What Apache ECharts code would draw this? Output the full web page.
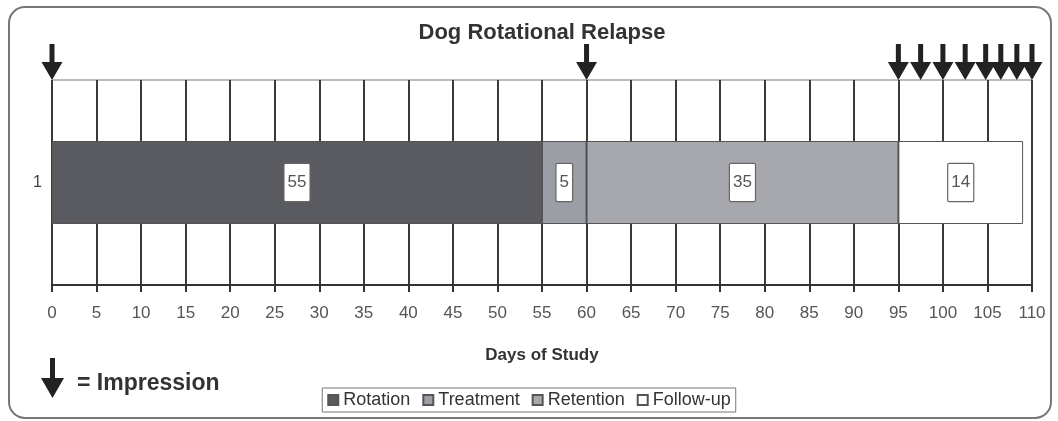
<!DOCTYPE html>
<html>
<head>
<meta charset="utf-8">
<script src="https://cdn.jsdelivr.net/npm/echarts@6/dist/echarts.min.js"></script>
<style>
  html, body { margin: 0; padding: 0; background: #fff; }
  #chart { width: 1058px; height: 421px; }
</style>
</head>
<body>
<div id="chart"></div>
<script>
// data
const categories = ["1"];
const phases = ["Rotation", "Treatment", "Retention", "Follow-up"];
const phaseDays = [55, 5, 35, 14];
const phaseColors = ["#5a5b60", "#9c9ea5", "#a6a8ae", "#ffffff"];
const impressionDays = [0, 60, 95, 97.5, 100, 102.5, 104.8, 106.5, 108.3, 110];
const xTicks = { min: 0, max: 110, interval: 5 };

const font = "'Liberation Sans', Arial, sans-serif";
const arrowPath = "path://M8,0 L13,0 L13,18 L21,18 L10.5,36 L0,18 L8,18 Z";

const chart = echarts.init(document.getElementById("chart"), null, { renderer: "canvas" });

const barSeries = phases.map((name, i) => ({
  name: name,
  type: "bar",
  stack: "days",
  barWidth: 83,
  xAxisIndex: 0,
  yAxisIndex: 0,
  itemStyle: {
    color: phaseColors[i],
    borderColor: "#555",
    borderWidth: 1,
  },
  label: {
    show: true,
    position: "inside",
    formatter: "{c}",
    color: "#555",
    fontFamily: font,
    fontSize: 17,
    backgroundColor: "#fff",
    borderColor: "#666",
    borderWidth: 1.2,
    borderRadius: 1,
    padding: [10, 3, 10, 3],
  },
  emphasis: { disabled: true },
  data: [phaseDays[i]],
}));

chart.setOption({
  animation: false,
  backgroundColor: "#fff",
  title: {
    text: "Dog Rotational Relapse",
    left: 537,
    textAlign: "center",
    top: 17,
    textStyle: { fontFamily: font, fontWeight: "bold", fontSize: 22, color: "#333" },
  },
  legend: {
    data: phases,
    bottom: 9,
    left: "center",
    icon: "rect",
    itemWidth: 10,
    itemHeight: 10,
    itemGap: 12,
    itemTextGap: 6,
    padding: [3, 5, 3, 5],
    borderColor: "#777",
    borderWidth: 1,
    textStyle: { fontFamily: font, fontSize: 18, color: "#333" },
  },
  grid: [
    { left: 52, right: 26, top: 80, bottom: 136 },
    { left: 52, right: 26, top: 44, height: 36 },
  ],
  xAxis: [
    {
      type: "value",
      gridIndex: 0,
      min: xTicks.min,
      max: xTicks.max,
      interval: xTicks.interval,
      name: "Days of Study",
      nameLocation: "middle",
      nameGap: 62,
      nameTextStyle: { fontFamily: font, fontWeight: "bold", fontSize: 17, color: "#333" },
      axisLine: { show: true, lineStyle: { color: "#333", width: 2 } },
      axisTick: { show: true, length: 7, lineStyle: { color: "#333", width: 2 } },
      axisLabel: { margin: 20, fontFamily: font, fontSize: 17, color: "#555" },
      splitLine: { show: true, lineStyle: { color: "#3a3a3a", width: 2 } },
    },
    {
      type: "value",
      gridIndex: 1,
      min: xTicks.min,
      max: xTicks.max,
      show: false,
    },
  ],
  yAxis: [
    {
      type: "category",
      gridIndex: 0,
      data: categories,
      axisLine: { show: false },
      axisTick: { show: false },
      axisLabel: { margin: 10, fontFamily: font, fontSize: 16, color: "#444" },
      splitLine: { show: true, lineStyle: { color: "#bbb", width: 2 } },
    },
    {
      type: "value",
      gridIndex: 1,
      min: 0,
      max: 1,
      show: false,
    },
  ],
  series: barSeries.concat([
    {
      name: "Impression",
      type: "scatter",
      xAxisIndex: 1,
      yAxisIndex: 1,
      symbol: arrowPath,
      symbolKeepAspect: false,
      symbolSize: [21, 36],
      itemStyle: { color: "#222", opacity: 1 },
      silent: true,
      z: 5,
      data: impressionDays.map((d) => [d, 0.5]),
    },
  ]),
  graphic: [
    {
      type: "rect",
      shape: { x: 9, y: 7, width: 1042, height: 411, r: 16 },
      style: { fill: "none", stroke: "#777", lineWidth: 2 },
      silent: true,
      z: -10,
    },
    {
      type: "polygon",
      shape: { points: [[50, 358], [55, 358], [55, 378], [64, 378], [52.5, 398], [41, 378], [50, 378]] },
      style: { fill: "#222" },
      silent: true,
    },
    {
      type: "text",
      x: 77,
      y: 384,
      style: {
        text: "= Impression",
        fontFamily: font,
        fontWeight: "bold",
        fontSize: 23,
        fill: "#333",
        verticalAlign: "middle",
      },
      silent: true,
    },
  ],
});
</script>
</body>
</html>
